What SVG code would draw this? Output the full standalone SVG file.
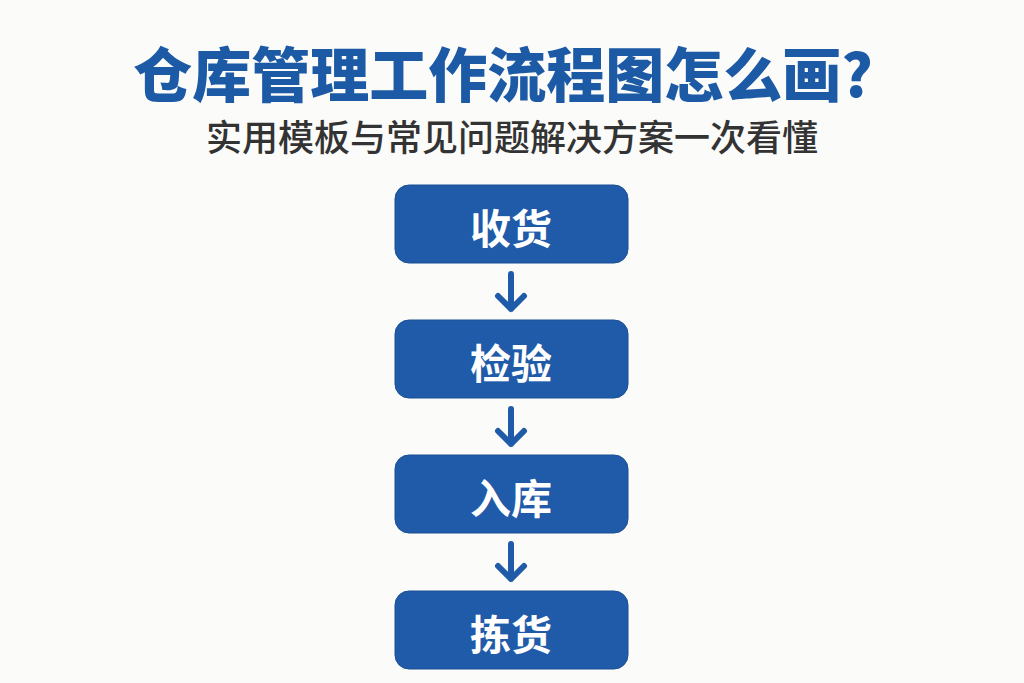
<svg xmlns="http://www.w3.org/2000/svg" width="1024" height="683" viewBox="0 0 1024 683">
<defs>
<style>
.title{font-family:"Noto Sans CJK SC","Noto Sans",sans-serif;font-weight:900;font-size:59px;fill:#1d5aa6;text-anchor:middle;dominant-baseline:central}
.sub{font-family:"Noto Sans CJK SC","Noto Sans",sans-serif;font-weight:500;font-size:36px;fill:#333333;text-anchor:middle;dominant-baseline:central}
.box{fill:#1f5ba8;stroke:#1a4f94;stroke-width:1}
.lbl{font-family:"Noto Sans CJK SC","Noto Sans",sans-serif;font-weight:700;font-size:41px;fill:#ffffff;text-anchor:middle;dominant-baseline:central}
.arr{fill:none;stroke:#1f5ba8;stroke-width:6;stroke-linecap:round;stroke-linejoin:round}
</style>
</defs>
<rect width="1024" height="683" fill="#fbfbf9"/>
<text class="title" x="503" y="71">仓库管理工作流程图怎么画?</text>
<text class="sub" x="512" y="135">实用模板与常见问题解决方案一次看懂</text>
<g id="connectors">
<path class="arr" d="M511 274 V309 M498 296 L511 309 L524 296"/>
<path class="arr" d="M511 409 V444 M498 431 L511 444 L524 431"/>
<path class="arr" d="M511 544 V579 M498 566 L511 579 L524 566"/>
</g>
<g id="node1"><rect class="box" x="395" y="185" width="233" height="78" rx="14"/><text class="lbl" x="511" y="226">收货</text></g>
<g id="node2"><rect class="box" x="395" y="320" width="233" height="78" rx="14"/><text class="lbl" x="511" y="361">检验</text></g>
<g id="node3"><rect class="box" x="395" y="455" width="233" height="78" rx="14"/><text class="lbl" x="511" y="496">入库</text></g>
<g id="node4"><rect class="box" x="395" y="591" width="233" height="78" rx="14"/><text class="lbl" x="511" y="632">拣货</text></g>
</svg>
